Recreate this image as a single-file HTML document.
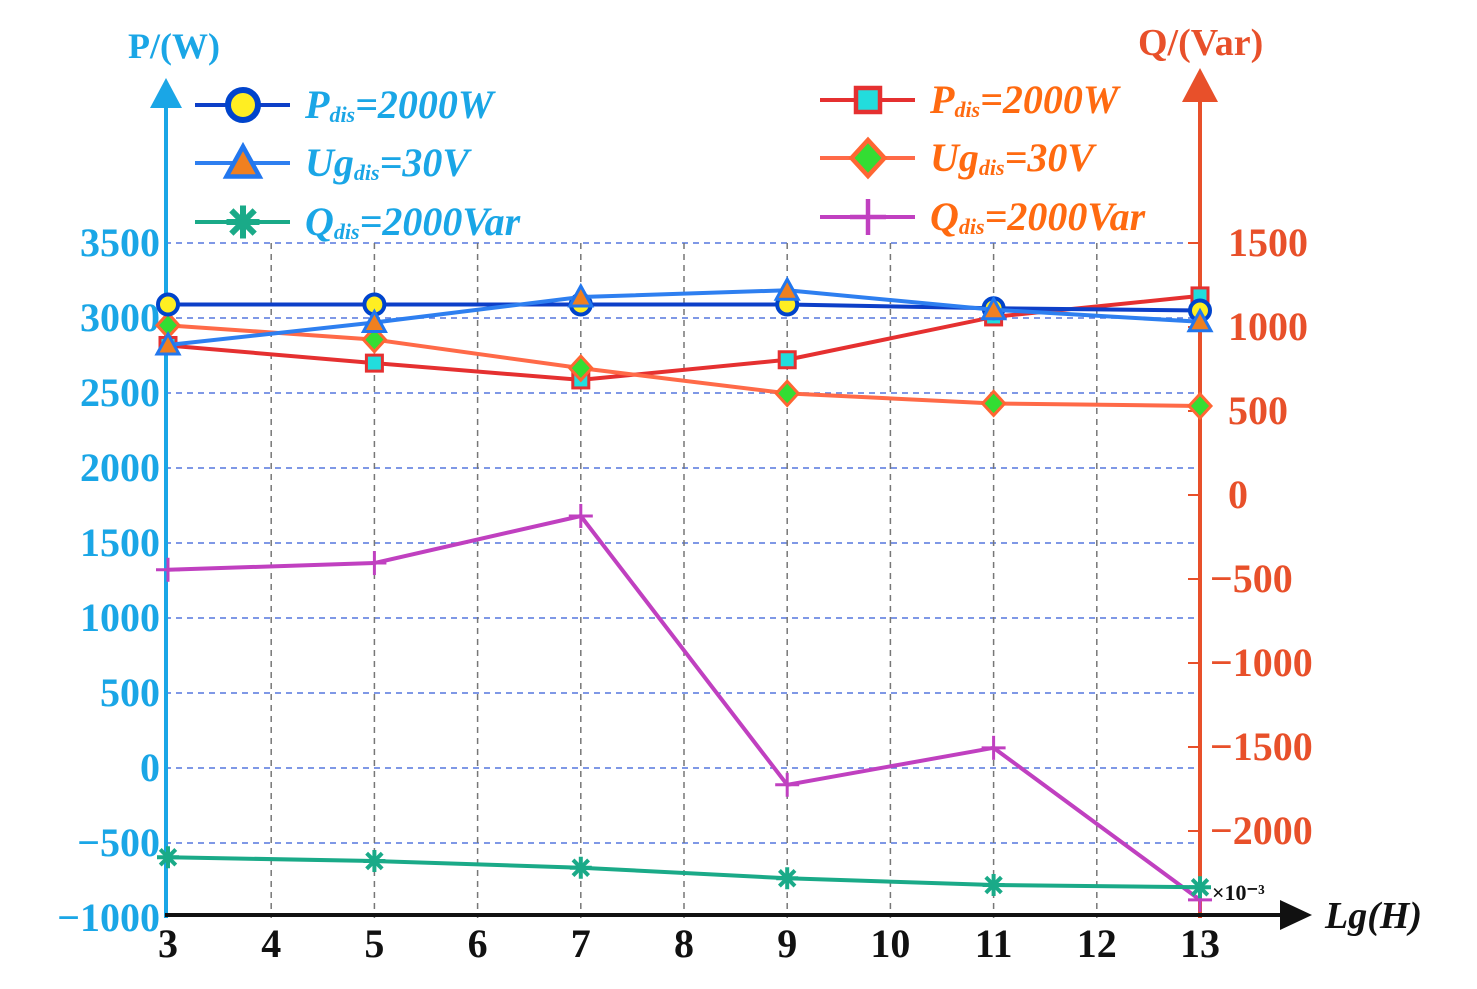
<!DOCTYPE html>
<html><head><meta charset="utf-8"><style>
body{margin:0;background:#fff}
svg text{font-family:"Liberation Serif",serif;font-weight:bold}
</style></head><body>
<svg width="1477" height="984" viewBox="0 0 1477 984">
<g id="grid"></g>
<g id="axes"></g>
<g id="series"></g>
<g id="legend"></g>
</svg>
<script>
const xCats=[3,5,7,9,11,13];
const xTicks=[3,4,5,6,7,8,9,10,11,12,13];
const leftTicks=[-1000,-500,0,500,1000,1500,2000,2500,3000,3500];
const rightTicks=[-2000,-1500,-1000,-500,0,500,1000,1500];
const pDisP=[3090,3090,3090,3090,3065,3050];
const ugDisP=[2820,2970,3140,3185,3055,2975];
const qDisP=[-595,-620,-665,-735,-780,-795];
const pDisQ=[890,785,685,805,1060,1185];
const ugDisQ=[1010,925,755,605,545,530];
const qDisQ=[-445,-405,-125,-1725,-1505,-2410];

const NS="http://www.w3.org/2000/svg";
const X=v=>168+(v-3)*103.2;
const YL=v=>918-(v+1000)*0.15;
const YR=v=>495-v*0.168;
function mk(p,t,a){const e=document.createElementNS(NS,t);for(const k in a)e.setAttribute(k,a[k]);p.appendChild(e);return e;}
const G=document.getElementById('grid'),A=document.getElementById('axes'),S=document.getElementById('series'),L=document.getElementById('legend');
const cyan="#1aa6e6",red="#e8502a";
leftTicks.forEach(v=>{if(v>-1000){const l=mk(G,'line',{x1:165,x2:1200,y1:YL(v),y2:YL(v),stroke:"#5577dd","stroke-dasharray":"6,5","stroke-width":1.5});

}
const t=mk(A,'text',{x:160,y:YL(v)+13,"text-anchor":"end","font-size":40,fill:cyan});t.textContent=v<0?'−'+(-v):v;

});
xTicks.forEach(v=>{if(v>3&&v<13){const l=mk(G,'line',{x1:X(v),x2:X(v),y1:243,y2:918,stroke:"#777","stroke-dasharray":"6,5","stroke-width":1.5});

}
const t=mk(A,'text',{x:X(v),y:957,"text-anchor":"middle","font-size":40,fill:"#111"});t.textContent=v;

});
rightTicks.forEach(v=>{mk(A,'line',{x1:1188,x2:1200,y1:YR(v),y2:YR(v),stroke:red,"stroke-width":2});
const t=mk(A,'text',{x:v<0?1210:1228,y:YR(v)+13,"font-size":40,fill:red});t.textContent=v<0?'−'+(-v):v;

});
mk(A,'line',{x1:166,x2:166,y1:918,y2:100,stroke:cyan,"stroke-width":4});
mk(A,'polygon',{points:"150,108 166,78 182,108",fill:cyan});
mk(A,'line',{x1:1200,x2:1200,y1:918,y2:95,stroke:red,"stroke-width":4});
mk(A,'polygon',{points:"1182,102 1200,68 1218,102",fill:red});
mk(A,'line',{x1:165,x2:1285,y1:915,y2:915,stroke:"#111","stroke-width":4});
mk(A,'polygon',{points:"1280,900 1312,915 1280,930",fill:"#111"});
let t=mk(A,'text',{x:128,y:58,"font-size":36,fill:cyan});t.textContent="P/(W)";
t=mk(A,'text',{x:1138,y:55,"font-size":38,fill:red});t.textContent="Q/(Var)";
t=mk(A,'text',{x:1325,y:928,"font-size":38,fill:"#111","font-style":"italic"});t.textContent="Lg(H)";
t=mk(A,'text',{x:1212,y:900,"font-size":22,fill:"#111","font-weight":"normal"});t.textContent="×10⁻³";

function marker(g,type,x,y,c,s){s=s||1;
 if(type==='circle')mk(g,'circle',{cx:x,cy:y,r:10*s,fill:"#ffee22",stroke:"#0044cc","stroke-width":4*s});
 if(type==='tri')mk(g,'polygon',{points:`${x-11*s},${y+9*s} ${x},${y-11*s} ${x+11*s},${y+9*s}`,fill:"#f08020",stroke:"#2277ee","stroke-width":3*s});
 if(type==='star'){for(let a=0;a<4;a++){const r=a*Math.PI/4;mk(g,'line',{x1:x-11*s*Math.cos(r),y1:y-11*s*Math.sin(r),x2:x+11*s*Math.cos(r),y2:y+11*s*Math.sin(r),stroke:c,"stroke-width":4*s});}}
 if(type==='sq')mk(g,'rect',{x:x-8*s,y:y-8*s,width:16*s,height:16*s,fill:"#22dddd",stroke:"#e53030","stroke-width":3*s});
 if(type==='dia')mk(g,'polygon',{points:`${x},${y-12*s} ${x+11*s},${y} ${x},${y+12*s} ${x-11*s},${y}`,fill:"#33dd33",stroke:"#ff6633","stroke-width":3*s});
 if(type==='plus'){mk(g,'line',{x1:x-12*s,x2:x+12*s,y1:y,y2:y,stroke:c,"stroke-width":3*s});mk(g,'line',{x1:x,x2:x,y1:y-12*s,y2:y+12*s,stroke:c,"stroke-width":3*s});}
}
const ser=[
 [pDisQ,YR,"#e53030",'sq','p-dis-q-series'],
 [ugDisQ,YR,"#ff6a48",'dia','ug-dis-q-series'],
 [qDisQ,YR,"#c040c0",'plus','q-dis-q-series'],
 [qDisP,YL,"#1aaa88",'star','q-dis-p-series'],
 [pDisP,YL,"#0d3fc8",'circle','p-dis-p-series'],
 [ugDisP,YL,"#2e7ff0",'tri','ug-dis-p-series']];
ser.forEach(([d,Y,c,m,n])=>{const g=mk(S,'g',{});


mk(g,'polyline',{points:d.map((v,i)=>X(xCats[i])+','+Y(v)).join(' '),fill:"none",stroke:c,"stroke-width":4});
d.forEach((v,i)=>marker(g,m,X(xCats[i]),Y(v),c));});
const leg=[[195,105,"#0d3fc8",'circle',"P","dis","=2000W",cyan],[195,163,"#2e7ff0",'tri',"Ug","dis","=30V",cyan],[195,222,"#1aaa88",'star',"Q","dis","=2000Var",cyan],
[820,100,"#e53030",'sq',"P","dis","=2000W","#ff6a10"],[820,158,"#ff6a48",'dia',"Ug","dis","=30V","#ff6a10"],[820,217,"#c040c0",'plus',"Q","dis","=2000Var","#ff6a10"]];
leg.forEach(([x,y,c,m,a,s,b,tc])=>{const g=mk(L,'g',{});


mk(g,'line',{x1:x,x2:x+95,y1:y,y2:y,stroke:c,"stroke-width":4});marker(g,m,x+48,y,c,1.5);
const tt=mk(g,'text',{x:x+110,y:y+13,"font-size":40,fill:tc,"font-style":"italic"});
tt.innerHTML=a+'<tspan font-size="22" dy="4">'+s+'</tspan><tspan dy="-4">'+b+'</tspan>';});
</script>
</body></html>
